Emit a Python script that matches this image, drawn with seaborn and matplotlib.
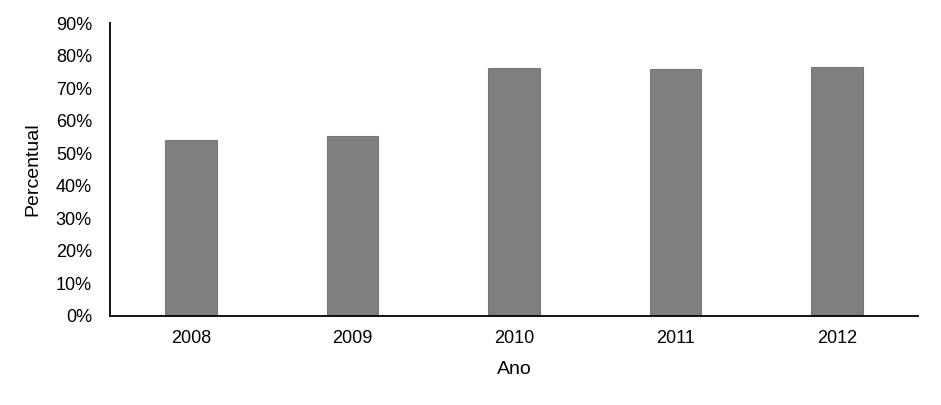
import matplotlib
matplotlib.use('Agg')
import matplotlib.pyplot as plt
import seaborn as sns
import pandas as pd
from matplotlib.ticker import PercentFormatter

anos = ['2008', '2009', '2010', '2011', '2012']
percentual = [54.1, 55.3, 76.2, 75.9, 76.5]

df = pd.DataFrame({'Ano': anos, 'Percentual': percentual})

sns.set_style('white')
plt.rcParams['font.family'] = ['Liberation Sans', 'DejaVu Sans']
plt.rcParams['text.color'] = 'black'
plt.rcParams['axes.labelcolor'] = 'black'

fig = plt.figure(figsize=(9.41, 4.05), dpi=100)
ax = fig.add_axes([0.1169, 0.2198, 0.8587, 0.7234])

sns.barplot(data=df, x='Ano', y='Percentual', color='#7f7f7f', width=0.32,
            edgecolor='#787878', linewidth=0.8, saturation=1, ax=ax)

ax.set_ylim(0, 90)
ax.set_yticks(range(0, 91, 10))
ax.yaxis.set_major_formatter(PercentFormatter(decimals=0))
ax.set_xlim(-0.5, 4.5)

sns.despine(ax=ax)
for side in ['left', 'bottom']:
    ax.spines[side].set_color('black')
    ax.spines[side].set_linewidth(1.3)

ax.tick_params(axis='both', length=0, labelsize=13, colors='black')
ax.tick_params(axis='y', pad=13)
ax.tick_params(axis='x', pad=10)
ax.set_xlabel('Ano', fontsize=14, labelpad=10, color='black')
ax.set_ylabel('Percentual', fontsize=14, labelpad=10, color='black')

fig.savefig('out.png', dpi=100)
